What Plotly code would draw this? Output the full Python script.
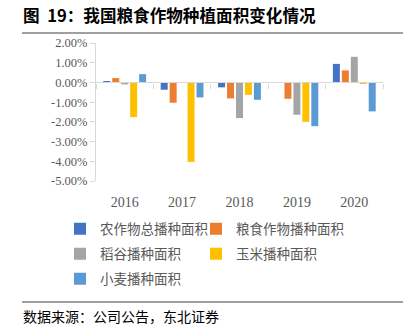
import plotly.graph_objects as go

years = ["2016", "2017", "2018", "2019", "2020"]
series_names = ["农作物总播种面积", "粮食作物播种面积", "稻谷播种面积", "玉米播种面积", "小麦播种面积"]
total_crop = [0.05, -0.37, -0.25, 0.0, 0.94]
grain = [0.22, -1.03, -0.81, -0.83, 0.61]
rice = [-0.10, 0.0, -1.81, -1.64, 1.30]
corn = [-1.76, -4.03, -0.63, -2.00, -0.03]
wheat = [0.42, -0.76, -0.88, -2.22, -1.47]
y_ticks = [2, 1, 0, -1, -2, -3, -4, -5]
y_tick_labels = ["2.00%", "1.00%", "0.00%", "-1.00%", "-2.00%", "-3.00%", "-4.00%", "-5.00%"]
title_text = "图  19：我国粮食作物种植面积变化情况"
source_text = "数据来源：公司公告，东北证券"

colors = ["#4472C4", "#ED7D31", "#A5A5A5", "#FFC000", "#5B9BD5"]
values = [total_crop, grain, rice, corn, wheat]
legend_ids = ["legend", "legend2", "legend3", "legend4", "legend5"]
# legend placement (pixel x of legend box left, pixel y of row centre)
legend_pos = [(60, 229), (196, 229), (60, 254), (196, 254), (60, 279)]

W, H = 411, 327
L, R, T, B = 96, 28, 43, 146
PW, PH = W - L - R, H - T - B


def px_x(px):
    return (px - L) / PW


def px_y(py):
    return (H - B - py) / PH


fig = go.Figure()
for name, vals, col, lg in zip(series_names, values, colors, legend_ids):
    fig.add_trace(go.Bar(x=years, y=vals, name=name, marker_color=col,
                         marker_line_width=0, legend=lg))
# helper trace for the zero-line category axis
fig.add_trace(go.Scatter(x=years, y=[None] * len(years), xaxis="x2", yaxis="y",
                         showlegend=False, hoverinfo="skip"))

axis_gray = "#D9D9D9"
text_gray = "#595959"
serif = "Liberation Serif, Times New Roman, serif"
cjk = "Noto Sans CJK SC, sans-serif"

legend_common = dict(orientation="h", xanchor="left", yanchor="middle",
                     font=dict(family=cjk, size=13.5, color=text_gray),
                     itemwidth=30, bgcolor="rgba(0,0,0,0)", itemclick=False)

legend_layout = {}
for lg, (lx, ly) in zip(legend_ids, legend_pos):
    legend_layout[lg] = dict(legend_common, x=px_x(lx), y=px_y(ly))

fig.update_layout(
    width=W, height=H,
    margin=dict(l=L, r=R, t=T, b=B, autoexpand=False),
    paper_bgcolor="white", plot_bgcolor="white",
    barmode="group", bargap=0.22, bargroupgap=0.22,
    xaxis=dict(type="category", categoryorder="array", categoryarray=years,
               range=[-0.5, 4.5], showline=False, showgrid=False, zeroline=False,
               ticks="outside", ticklen=8, tickcolor="rgba(0,0,0,0)",
               tickfont=dict(family=serif, size=14, color=text_gray)),
    xaxis2=dict(type="category", categoryorder="array", categoryarray=years,
                range=[-0.5, 4.5], overlaying="x", anchor="free", position=5 / 7,
                showline=True, linecolor=axis_gray, linewidth=1.3,
                ticks="outside", tickson="boundaries", ticklen=5, tickcolor=axis_gray,
                showticklabels=False, showgrid=False, zeroline=False),
    yaxis=dict(range=[-5, 2], tickvals=y_ticks, ticktext=y_tick_labels,
               showline=True, linecolor=axis_gray, linewidth=1,
               ticks="outside", ticklen=5, tickcolor=axis_gray,
               showgrid=False, zeroline=False,
               tickfont=dict(family=serif, size=12.5, color=text_gray)),
    showlegend=True,
    **legend_layout,
)

fig.add_annotation(text="<b>" + title_text + "</b>", xref="paper", yref="paper",
                   x=px_x(21), y=px_y(15), xanchor="left", yanchor="middle",
                   showarrow=False, font=dict(family=cjk, size=16.6, color="#000000"))
fig.add_annotation(text=source_text, xref="paper", yref="paper",
                   x=px_x(21), y=px_y(316), xanchor="left", yanchor="middle",
                   showarrow=False, font=dict(family=cjk, size=14, color="#000000"))
for py in (33, 302):
    fig.add_shape(type="line", xref="paper", yref="paper",
                  x0=px_x(22), x1=px_x(403), y0=px_y(py), y1=px_y(py),
                  line=dict(color="#404040", width=1))

fig.write_html("out.html")
